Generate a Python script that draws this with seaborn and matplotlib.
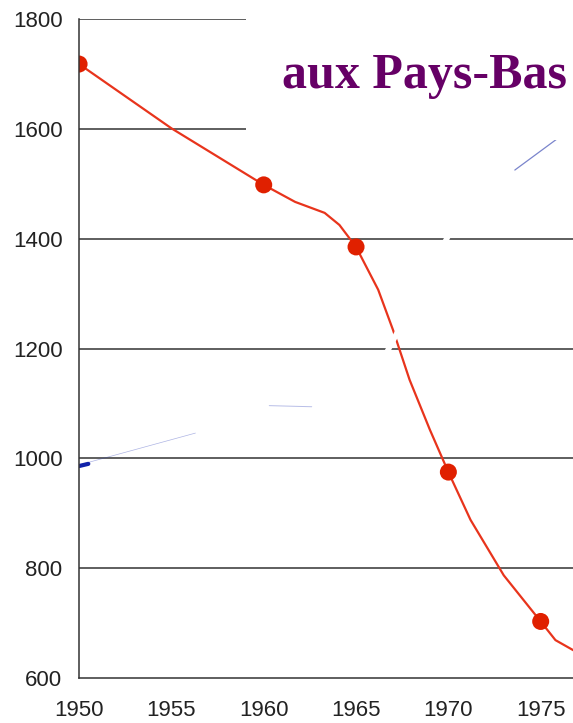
import pandas as pd
import matplotlib.pyplot as plt
import seaborn as sns

# red curve (smooth path) and the marked census points
years = [1950, 1955, 1960, 1961.7, 1963.3, 1964.1, 1965, 1966.2, 1967, 1967.9,
         1969, 1970, 1971.2, 1973, 1975, 1975.8, 1976.8]
values = [1718, 1601, 1498, 1467, 1447, 1425, 1385, 1307, 1234, 1143,
          1052, 975, 888, 787, 703, 669, 650]
mark_years = [1950, 1960, 1965, 1970, 1975]
mark_values = [1718, 1498, 1385, 975, 703]

# faint fragments of a second (mostly hidden) series
blue_a_years = [1950, 1956.3]
blue_a_values = [988, 1046]
blue_b_years = [1960.3, 1962.6]
blue_b_values = [1096, 1094]
blue_c_years = [1973.6, 1976.1]
blue_c_values = [1525, 1587]
white_years = [1966.1, 1970.1]
white_values = [1157, 1412]

y_ticks = [600, 800, 1000, 1200, 1400, 1600, 1800]
x_ticks = [1950, 1955, 1960, 1965, 1970, 1975]

sns.set_style('white')
plt.rcParams['font.family'] = ['Liberation Sans', 'DejaVu Sans']

fig = plt.figure(figsize=(5.73, 7.23), dpi=100)
ax = fig.add_axes([0.138, 0.0622, 0.862, 0.9115])

for y in y_ticks[1:]:
    ax.axhline(y, color='#333333', lw=1.1, zorder=1)

sns.lineplot(x=blue_a_years, y=blue_a_values, ax=ax, color='#3344bb', lw=0.5, alpha=0.4, zorder=2)
sns.lineplot(x=[1950, 1950.5], y=[986, 990], ax=ax, color='#1122aa', lw=3, zorder=2)
sns.lineplot(x=blue_b_years, y=blue_b_values, ax=ax, color='#3344bb', lw=0.7, alpha=0.35, zorder=2)
sns.lineplot(x=blue_c_years, y=blue_c_values, ax=ax, color='#2233aa', lw=0.9, alpha=0.6, zorder=2)

sns.lineplot(x=years, y=values, ax=ax, color='#e8341c', lw=1.6, zorder=3)
sns.scatterplot(x=mark_years, y=mark_values, ax=ax, color='#e02000', s=150,
                edgecolor='none', zorder=4)
sns.lineplot(x=white_years, y=white_values, ax=ax, color='white', lw=4, zorder=5)

ax.set_xlim(1950, 1976.75)
ax.set_ylim(600, 1800)
ax.set_xticks(x_ticks)
ax.set_yticks(y_ticks)
ax.tick_params(axis='both', direction='out', length=7, width=1.1, color='#333333',
               labelsize=16, labelcolor='#222222', pad=5)
ax.tick_params(axis='x', pad=9)
ax.set_xlabel('')
ax.set_ylabel('')
for side in ['top', 'right']:
    ax.spines[side].set_visible(False)
for side in ['left', 'bottom']:
    ax.spines[side].set_color('#333333')
    ax.spines[side].set_linewidth(1.1)
ax.spines['left'].set_zorder(6)

# title box covering the top right of the grid
fig.patches.append(plt.Rectangle((246 / 573, 1 - 140 / 723), 1, 1, transform=fig.transFigure,
                                 facecolor='white', edgecolor='none', zorder=10))
fig.text(0.99, 1 - 76 / 723, 'aux Pays-Bas', ha='right', va='center',
         fontsize=36, fontweight='bold', color='#660066',
         family=['Liberation Serif', 'DejaVu Serif'], zorder=11)

fig.savefig('out.png', dpi=100)
